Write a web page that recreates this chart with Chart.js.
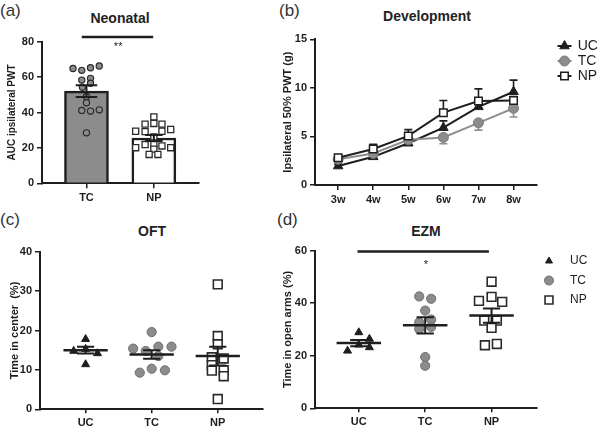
<!DOCTYPE html>
<html>
<head>
<meta charset="utf-8">
<script src="https://cdn.jsdelivr.net/npm/chart.js@4.4.0/dist/chart.umd.min.js"></script>
<style>
body { margin: 0; width: 600px; height: 428px; position: relative; overflow: hidden; background: #fff;
  font-family: "Liberation Sans", Arial, sans-serif; color: #222; }
canvas { position: absolute; }
.lbl { position: absolute; font-size: 17px; line-height: 1; color: #333; }
.ttl { position: absolute; font-size: 14px; font-weight: bold; transform: translate(-50%, -50%); white-space: nowrap; }
</style>
</head>
<body>
<div class="lbl" style="left:0px;top:2px">(a)</div>
<div class="lbl" style="left:279px;top:2px">(b)</div>
<div class="lbl" style="left:0px;top:211px">(c)</div>
<div class="lbl" style="left:277px;top:211px">(d)</div>
<div class="ttl" style="left:120px;top:18px">Neonatal</div>
<div class="ttl" style="left:427px;top:16px">Development</div>
<div class="ttl" style="left:152px;top:231px">OFT</div>
<div class="ttl" style="left:426px;top:231px">EZM</div>

<canvas id="cA" width="280" height="212" style="left:0;top:0"></canvas>
<canvas id="cB" width="320" height="212" style="left:280px;top:0"></canvas>
<canvas id="cC" width="278" height="216" style="left:0;top:212px"></canvas>
<canvas id="cD" width="322" height="216" style="left:278px;top:212px"></canvas>

<script>
// ===== Data (a) Neonatal
const neoGroups = ['TC', 'NP'];
const neoMean = [52.1, 25.6];
const neoSem = [3.3, 1.7];
const neoTC = [64.9, 63.8, 65.3, 66.3, 58.3, 59.3, 56.5, 54.2, 49.1, 45.5, 41.2, 40.8, 41.5, 28.5];
const neoTCjit = [-0.2, -0.07, 0.06, 0.19, -0.07, 0.06, 0.06, -0.06, 0, 0, -0.07, 0.06, 0.19, 0];
const neoNP = [37.5, 33.4, 33.8, 33.4, 29.4, 29.2, 29.4, 30.4, 26.2, 20.1, 21.9, 21.9, 21.1, 20.1, 19.3, 16.3, 16.3];
const neoNPjit = [0, -0.13, 0, 0.12, -0.27, -0.13, 0.12, 0.25, 0, -0.27, -0.13, 0, 0.12, 0.25, 0, -0.07, 0.06];

// ===== Data (b) Development
const weeks = ['3w', '4w', '5w', '6w', '7w', '8w'];
const devUC = [1.95, 2.9, 4.3, 5.9, 8.05, 9.6];
const devTC = [2.65, 3.25, 4.65, 4.9, 6.4, 7.9];
const devNP = [2.8, 3.7, 5.05, 7.45, 8.65, 8.7];
const devUCsem = [0.2, 0.25, 0.3, 0.7, 0.8, 1.2];
const devTCsem = [0.3, 0.3, 0.3, 0.65, 0.75, 0.9];
const devNPsem = [0.3, 0.5, 0.65, 1.25, 1.25, 0.4];

// ===== Data (c) OFT
const groups = ['UC', 'TC', 'NP'];
const oftUC = [17.8, 14.8, 15.3, 14.2, 11.4];
const oftUCjit = [0, -0.18, 0, 0.18, 0];
const oftTC = [19.6, 15.4, 14.8, 15.9, 15.9, 13.5, 9.3, 10.3, 9.9];
const oftTCjit = [0, -0.28, -0.09, 0.1, 0.3, 0.1, -0.18, 0, 0.2];
const oftNP = [31.7, 18.6, 16.5, 13.2, 12.9, 11.2, 9.8, 9.9, 8.4, 2.6];
const oftNPjit = [0, 0, 0, -0.09, 0.09, -0.09, -0.09, 0.09, 0.09, 0];
const oftMean = [15.0, 13.9, 13.5];
const oftSem = [0.85, 1.1, 2.4];

// ===== Data (d) EZM
const ezmUC = [28.9, 21.9, 26.4, 23.2, 24.2];
const ezmUCjit = [0, -0.17, 0.16, 0.16, 0];
const ezmTC = [42.6, 41.7, 37.2, 33.8, 32.7, 30.2, 31.0, 19.5, 16.2];
const ezmTCjit = [-0.09, 0.09, 0, 0.09, -0.09, -0.09, 0.09, 0, 0];
const ezmNP = [48.2, 42.4, 40.9, 40.5, 33.4, 33.4, 30.6, 24.0, 24.5];
const ezmNPjit = [0, 0, -0.19, 0.16, -0.11, 0.08, 0, -0.1, 0.08];
const ezmMean = [24.85, 31.6, 35.3];
const ezmSem = [1.2, 3.1, 2.7];

// ===== Style
const INK = '#1e1e1e';
const GREY = '#8c8c8c';
const FONT = '"Liberation Sans", Arial, sans-serif';
Chart.defaults.font.family = FONT;
Chart.defaults.color = INK;
Chart.defaults.animation = false;

const noPlugins = { legend: { display: false }, tooltip: { enabled: false } };

function yAxis(min, max, step, title, width, titlePad, titleSize) {
  return {
    type: 'linear', min, max,
    ticks: { stepSize: step, font: { size: 11, weight: 'bold' }, padding: 3, color: INK },
    grid: { drawOnChartArea: false, drawTicks: true, tickLength: 5, color: INK, lineWidth: 1.5 },
    border: { display: true, color: INK, width: 2 },
    title: { display: true, text: title, color: INK, font: { size: titleSize, weight: 'bold' }, padding: { top: titlePad, bottom: 0 } },
    afterFit(axis) { axis.width = width; }
  };
}

function xAxis(labels, min, max, height, tickLen) {
  return {
    type: 'linear', min, max, offset: false,
    afterBuildTicks(axis) { axis.ticks = labels.map((_, i) => ({ value: i })); },
    ticks: { callback: v => labels[v], font: { size: 11, weight: 'bold' }, padding: 3, autoSkip: false, maxRotation: 0, color: INK },
    grid: { offset: false, drawOnChartArea: false, drawTicks: true, tickLength: tickLen, color: INK, lineWidth: 1.5 },
    border: { display: true, color: INK, width: 2 },
    afterFit(axis) { axis.height = height; }
  };
}

function pts(vals, jit, cx) {
  return vals.map((v, i) => ({ x: cx + jit[i], y: v }));
}

// mean line + sem bars + significance marks, drawn through the scales
function summaryPlugin(o) {
  return {
    id: 'summary',
    afterDatasetsDraw(chart) {
      const { ctx, scales: { x, y } } = chart;
      ctx.save();
      ctx.strokeStyle = INK;
      ctx.lineCap = 'butt';
      o.mean.forEach((m, i) => {
        if (o.meanHalf) {
          ctx.lineWidth = 2.5;
          ctx.beginPath();
          ctx.moveTo(x.getPixelForValue(i - o.meanHalf), y.getPixelForValue(m));
          ctx.lineTo(x.getPixelForValue(i + o.meanHalf), y.getPixelForValue(m));
          ctx.stroke();
        }
        ctx.lineWidth = 2;
        const top = y.getPixelForValue(m + o.sem[i]);
        const bot = y.getPixelForValue(m - o.sem[i]);
        const cx = x.getPixelForValue(i);
        const ch = x.getPixelForValue(i + o.cap[i]) - cx;
        ctx.beginPath();
        ctx.moveTo(cx, top); ctx.lineTo(cx, bot);
        ctx.moveTo(cx - ch, top); ctx.lineTo(cx + ch, top);
        ctx.moveTo(cx - ch, bot); ctx.lineTo(cx + ch, bot);
        ctx.stroke();
      });
      if (o.sig) {
        const s = o.sig;
        ctx.lineWidth = 2.5;
        ctx.beginPath();
        ctx.moveTo(x.getPixelForValue(s.from), y.getPixelForValue(s.level));
        ctx.lineTo(x.getPixelForValue(s.to), y.getPixelForValue(s.level));
        ctx.stroke();
        ctx.fillStyle = INK;
        ctx.font = '11px ' + FONT;
        ctx.textAlign = 'center';
        ctx.textBaseline = 'middle';
        ctx.fillText(s.text, x.getPixelForValue(s.tx), y.getPixelForValue(s.ty));
      }
      ctx.restore();
    }
  };
}

function legendPlugin(items, lx, ly, gap, textX, fontSize, withLine) {
  return {
    id: 'legendCustom',
    afterDraw(chart) {
      const ctx = chart.ctx;
      ctx.save();
      items.forEach((it, i) => {
        const yy = ly + i * gap;
        if (withLine) {
          ctx.strokeStyle = it.line; ctx.lineWidth = 2;
          ctx.beginPath(); ctx.moveTo(lx - 7, yy); ctx.lineTo(lx + 7, yy); ctx.stroke();
        }
        ctx.fillStyle = it.fill; ctx.strokeStyle = it.border; ctx.lineWidth = it.bw;
        Chart.helpers.drawPoint(ctx, { pointStyle: it.style, radius: it.r, rotation: 0, borderWidth: it.bw }, lx, yy);
        ctx.fillStyle = INK;
        ctx.font = fontSize + 'px ' + FONT;
        ctx.textAlign = 'left';
        ctx.textBaseline = 'middle';
        ctx.fillText(it.label, textX, yy);
      });
      ctx.restore();
    }
  };
}

// ===== (a) Neonatal: bars + dots
new Chart(document.getElementById('cA'), {
  type: 'bar',
  data: {
    datasets: [
      { type: 'bar', data: neoMean.map((v, i) => ({ x: i, y: v })), backgroundColor: [GREY, '#ffffff'],
        borderColor: INK, borderWidth: 2.5, barThickness: 44, order: 3 },
      { type: 'scatter', data: pts(neoTC, neoTCjit, 0), pointStyle: 'circle', pointRadius: 3.1,
        pointBackgroundColor: GREY, pointBorderColor: '#2a2a2a', pointBorderWidth: 1.2, order: 1 },
      { type: 'scatter', data: pts(neoNP, neoNPjit, 1), pointStyle: 'rect', pointRadius: 4.3,
        pointBackgroundColor: '#fff', pointBorderColor: '#2a2a2a', pointBorderWidth: 1.3, order: 1 }
    ]
  },
  options: {
    responsive: false,
    layout: { padding: { left: 0, top: 41.7, right: 81, bottom: 0 } },
    plugins: noPlugins,
    scales: {
      x: xAxis(neoGroups, -0.66, 1.67, 28.7, 5),
      y: yAxis(0, 80, 20, 'AUC ipsilateral PWT', 42, 6, 10)
    }
  },
  plugins: [summaryPlugin({ mean: neoMean, sem: neoSem, cap: [0.16, 0.13], meanHalf: 0,
    sig: { from: -0.07, to: 0.99, level: 82.7, text: '**', tx: 0.47, ty: 77.3 } })]
});

// ===== (b) Development: lines with sem
const devSeries = [
  { label: 'UC', data: devUC, sem: devUCsem, dir: 1, line: INK, fill: INK, border: INK, style: 'triangle', r: 5.5, bw: 1 },
  { label: 'TC', data: devTC, sem: devTCsem, dir: -1, line: '#8f8f8f', fill: GREY, border: '#7a7a7a', style: 'circle', r: 5, bw: 1 },
  { label: 'NP', data: devNP, sem: devNPsem, dir: 1, line: INK, fill: '#ffffff', border: INK, style: 'rect', r: 5.3, bw: 1.5 }
];

const semBPlugin = {
  id: 'semB',
  beforeDatasetsDraw(chart) {
    const { ctx, scales: { x, y } } = chart;
    ctx.save();
    devSeries.forEach(s => {
      ctx.strokeStyle = s.line; ctx.lineWidth = 1.6;
      s.data.forEach((v, i) => {
        const cx = x.getPixelForValue(i);
        const y0 = y.getPixelForValue(v);
        const y1 = y.getPixelForValue(v + s.dir * s.sem[i]);
        ctx.beginPath();
        ctx.moveTo(cx, y0); ctx.lineTo(cx, y1);
        ctx.moveTo(cx - 4, y1); ctx.lineTo(cx + 4, y1);
        ctx.stroke();
      });
    });
    ctx.restore();
  }
};

new Chart(document.getElementById('cB'), {
  type: 'line',
  data: {
    datasets: devSeries.map((s, k) => ({
      label: s.label,
      data: s.data.map((v, i) => ({ x: i, y: v })),
      borderColor: s.line, borderWidth: 2, fill: false, tension: 0,
      pointStyle: s.style, pointRadius: s.r, pointBackgroundColor: s.fill,
      pointBorderColor: s.border, pointBorderWidth: s.bw,
      order: 3 - k
    }))
  },
  options: {
    responsive: false,
    layout: { padding: { left: 0, top: 39.3, right: 63.3, bottom: 0 } },
    plugins: noPlugins,
    scales: {
      x: xAxis(weeks, -0.66, 5.66, 27, 5),
      y: yAxis(0, 15, 5, 'Ipsilateral 50% PWT (g)', 35, 1, 11)
    }
  },
  plugins: [semBPlugin, legendPlugin(devSeries, 284.5, 46, 15, 297.7, 14, true)]
});

// ===== (c) OFT / (d) EZM: dot plots
function dotSets(uc, ucJ, tc, tcJ, np, npJ) {
  return [
    { type: 'scatter', data: pts(uc, ucJ, 0), pointStyle: 'triangle', pointRadius: 4.6,
      pointBackgroundColor: INK, pointBorderColor: INK, pointBorderWidth: 1 },
    { type: 'scatter', data: pts(tc, tcJ, 1), pointStyle: 'circle', pointRadius: 4.6,
      pointBackgroundColor: GREY, pointBorderColor: '#6e6e6e', pointBorderWidth: 1 },
    { type: 'scatter', data: pts(np, npJ, 2), pointStyle: 'rect', pointRadius: 6.2,
      pointBackgroundColor: '#ffffff', pointBorderColor: '#2a2a2a', pointBorderWidth: 1.6 }
  ];
}

new Chart(document.getElementById('cC'), {
  type: 'scatter',
  data: { datasets: dotSets(oftUC, oftUCjit, oftTC, oftTCjit, oftNP, oftNPjit) },
  options: {
    responsive: false,
    layout: { padding: { left: 0, top: 39.7, right: 15.3, bottom: 0 } },
    plugins: noPlugins,
    scales: {
      x: xAxis(groups, -0.69, 2.68, 18.7, 4),
      y: yAxis(0, 40, 10, 'Time in center  (%)', 40, 8, 11)
    }
  },
  plugins: [summaryPlugin({ mean: oftMean, sem: oftSem, cap: [0.13, 0.13, 0.13], meanHalf: 0.335 })]
});

const ezmLegend = [
  { label: 'UC', fill: INK, border: INK, style: 'triangle', r: 4, bw: 1 },
  { label: 'TC', fill: GREY, border: '#6e6e6e', style: 'circle', r: 4.5, bw: 1 },
  { label: 'NP', fill: '#ffffff', border: '#2a2a2a', style: 'rect', r: 5.6, bw: 1.6 }
];

new Chart(document.getElementById('cD'), {
  type: 'scatter',
  data: { datasets: dotSets(ezmUC, ezmUCjit, ezmTC, ezmTCjit, ezmNP, ezmNPjit) },
  options: {
    responsive: false,
    layout: { padding: { left: 0, top: 38.7, right: 63.3, bottom: 0 } },
    plugins: noPlugins,
    scales: {
      x: xAxis(groups, -0.66, 2.68, 19.7, 4),
      y: yAxis(0, 60, 20, 'Time in open arms (%)', 37, 3.4, 11)
    }
  },
  plugins: [summaryPlugin({ mean: ezmMean, sem: ezmSem, cap: [0.13, 0.13, 0.13], meanHalf: 0.335,
    sig: { from: -0.02, to: 1.96, level: 59.7, text: '*', tx: 1.01, ty: 54.6 } }),
    legendPlugin(ezmLegend, 271, 49, 19.5, 292, 12, false)]
});
</script>
</body>
</html>
